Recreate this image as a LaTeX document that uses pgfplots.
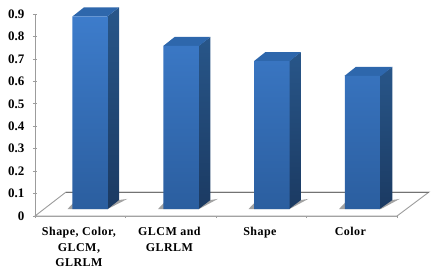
\documentclass[border=0pt]{standalone}
\usepackage{pgfplots}
\pgfplotsset{compat=1.18}
\usepackage{fontspec}
\setmainfont{Liberation Serif}
\newfontfamily\lblfont[LetterSpace=4,Scale=1]{Liberation Serif}
\definecolor{axgray}{HTML}{9C9C9C}
\definecolor{ftop}{HTML}{3D7CCB}
\definecolor{fbot}{HTML}{2B5E9F}
\definecolor{stop}{HTML}{285689}
\definecolor{sbot}{HTML}{1B3A62}
\definecolor{ttop}{HTML}{2E67AC}
\begin{document}
\begin{tikzpicture}[x=1pt,y=1pt]
\path[use as bounding box] (-35,-57) rectangle (404,216);
\begin{axis}[
  scale only axis, width=362pt, height=201.7pt,
  at={(0,0)}, anchor=south west,
  xmin=0, xmax=4, ymin=0, ymax=0.9,
  clip=false,
  axis lines=left, axis line style={axgray,-,line width=0.9pt},
  xtick={0.485,1.485,2.485,3.485},
  xticklabels={{Shape, Color,\\GLCM,\\GLRLM},{GLCM and\\GLRLM},Shape,Color},
  minor xtick={0,1,2,3,4},
  major tick length=0pt,
  ytick={0,0.1,0.2,0.3,0.4,0.5,0.6,0.7,0.8,0.9},
  yticklabels={0,0.1,0.2,0.3,0.4,0.5,0.6,0.7,0.8,0.9},
  minor ytick={0,0.1,0.2,0.3,0.4,0.5,0.6,0.7,0.8,0.9},
  minor tick length=4pt,
  tick style={axgray,line width=0.9pt},
  yticklabel style={font=\bfseries\fontsize{13}{13}\selectfont, anchor=east, xshift=-7pt},
  xticklabel style={font=\lblfont\bfseries\fontsize{12}{15.5}\selectfont, align=center, anchor=north, yshift=-8pt},
]
% floor
\addplot[axgray, line width=0.9pt, fill=white, forget plot] coordinates {(0,0) (4,0) (4.354,0.107) (0.343,0.107)} -- cycle;
\addplot[black!55, line width=1pt, forget plot] coordinates {(0.343,0.107) (4.354,0.107)};
% shadows
\addplot[draw=none, fill=black!60, opacity=0.6, yshift=7pt, forget plot] coordinates {(0.36,0) (0.8033,0) (1.02,0.045) (0.9283,0.04) (0.43,0.03)} -- cycle;
\addplot[draw=none, fill=black!60, opacity=0.6, yshift=7pt, forget plot] coordinates {(1.36,0) (1.8133,0) (2.02,0.045) (1.9383,0.04) (1.43,0.03)} -- cycle;
\addplot[draw=none, fill=black!60, opacity=0.6, yshift=7pt, forget plot] coordinates {(2.36,0) (2.8133,0) (3.02,0.045) (2.9383,0.04) (2.43,0.03)} -- cycle;
\addplot[draw=none, fill=black!60, opacity=0.6, yshift=7pt, forget plot] coordinates {(3.36,0) (3.8233,0) (4.03,0.045) (3.9483,0.04) (3.43,0.03)} -- cycle;
% side faces
\addplot[draw=none, top color=stop, bottom color=sbot, yshift=7pt, forget plot] coordinates {(0.8033,0) (0.9283,0.04) (0.9283,0.90) (0.8033,0.86)} -- cycle;
\addplot[draw=none, top color=stop, bottom color=sbot, yshift=7pt, forget plot] coordinates {(1.8083,0) (1.9383,0.04) (1.9383,0.768) (1.8083,0.728)} -- cycle;
\addplot[draw=none, top color=stop, bottom color=sbot, yshift=7pt, forget plot] coordinates {(2.8083,0) (2.9383,0.04) (2.9383,0.70) (2.8083,0.66)} -- cycle;
\addplot[draw=none, top color=stop, bottom color=sbot, yshift=7pt, forget plot] coordinates {(3.8083,0) (3.9483,0.04) (3.9483,0.634) (3.8083,0.594)} -- cycle;
% top faces
\addplot[draw=none, fill=ttop, yshift=7pt, forget plot] coordinates {(0.4166,0.86) (0.8033,0.86) (0.9283,0.90) (0.5416,0.90)} -- cycle;
\addplot[draw=none, fill=ttop, yshift=7pt, forget plot] coordinates {(1.4190,0.728) (1.8133,0.728) (1.9383,0.768) (1.5440,0.768)} -- cycle;
\addplot[draw=none, fill=ttop, yshift=7pt, forget plot] coordinates {(2.4200,0.66) (2.8133,0.66) (2.9383,0.70) (2.5450,0.70)} -- cycle;
\addplot[draw=none, fill=ttop, yshift=7pt, forget plot] coordinates {(3.4200,0.594) (3.8233,0.594) (3.9483,0.634) (3.5450,0.634)} -- cycle;
% front faces
\addplot[ybar, bar width=35.5pt, bar shift=0pt, draw=none, top color=ftop, bottom color=fbot, yshift=7pt, forget plot]
  coordinates {(0.61,0.86) (1.616,0.728) (2.616,0.66) (3.62,0.594)};
\end{axis}
\end{tikzpicture}
\end{document}
